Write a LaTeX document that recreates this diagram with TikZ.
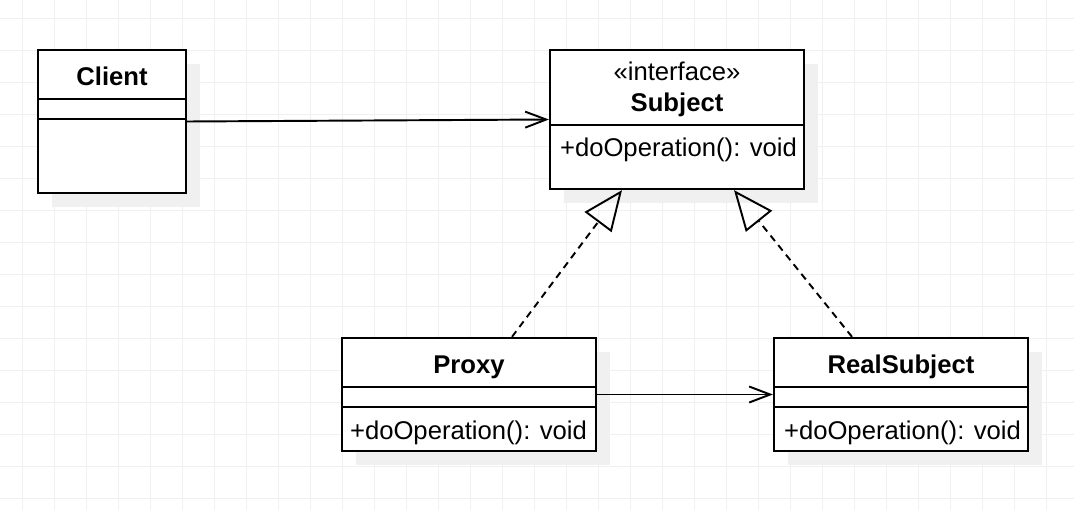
\documentclass[tikz,border=0pt]{standalone}
\usepackage{fontspec}
\setmainfont{Liberation Sans}
\usepackage{tikz}
\usetikzlibrary{arrows.meta,positioning,shadows}
\definecolor{gridGray}{RGB}{240,240,240}
\definecolor{shadowGray}{RGB}{240,240,240}

\begin{document}
\begin{tikzpicture}[x=0.02cm,y=-0.02cm,line width=1.3pt,
  font=\fontsize{14.6}{16.5}\selectfont]
\useasboundingbox (0,0) rectangle (1074,510);
% grid
\foreach \gx in {0,...,32} \draw[gridGray,line width=0.6pt] (22.3+32*\gx,0) -- (22.3+32*\gx,510);
\foreach \gy in {0,...,15} \draw[gridGray,line width=0.6pt] (0,18.3+32*\gy) -- (1074,18.3+32*\gy);

\tikzstyle{classbox}=[draw,rectangle,fill=white,inner sep=0pt,
  drop shadow={shadow xshift=0.28cm,shadow yshift=-0.28cm,fill=shadowGray,opacity=1}]
\tikzstyle{wide}=[minimum width=5.08cm]
\draw (112,121.5) node[classbox,minimum width=2.96cm,minimum height=2.86cm] (client) {};
\draw (677,119.5) node[classbox,wide,minimum height=2.78cm] (subject) {};
\draw (469,394.5) node[classbox,wide,minimum height=2.26cm] (proxy) {};
\draw (901,394.5) node[classbox,wide,minimum height=2.26cm] (real) {};

% compartments
\draw ([yshift=-1cm]client.north west) -- ([yshift=-1cm]client.north east);
\draw ([yshift=-1.4cm]client.north west) -- ([yshift=-1.4cm]client.north east);
\draw ([yshift=-1.52cm]subject.north west) -- ([yshift=-1.52cm]subject.north east);
\foreach \c in {proxy,real} {
  \draw ([yshift=-1cm]\c.north west) -- ([yshift=-1cm]\c.north east);
  \draw ([yshift=-1.4cm]\c.north west) -- ([yshift=-1.4cm]\c.north east);
}

\tikzstyle{every node}=[inner sep=0pt,anchor=base]
\tikzstyle{title}=[font=\fontsize{14.6}{16.5}\selectfont\bfseries]
\tikzstyle{member}=[anchor=base west]
\draw ([yshift=-0.73cm]client.north) node[title] (clientname) {Client};
\draw ([yshift=-0.64cm]subject.north) node (stereo) {«interface»};
\draw ([yshift=-1.25cm]subject.north) node[title] (subjectname) {Subject};
\draw ([xshift=0.2cm,yshift=-2.15cm]subject.north west) node[member] (subjectop) {+doOperation(): void};
\draw ([yshift=-0.73cm]proxy.north) node[title] (proxyname) {Proxy};
\draw ([xshift=0.16cm,yshift=-2.05cm]proxy.north west) node[member] (proxyop) {+doOperation(): void};
\draw ([yshift=-0.73cm]real.north) node[title] (realname) {RealSubject};
\draw ([xshift=0.2cm,yshift=-2.05cm]real.north west) node[member] (realop) {+doOperation(): void};

% connectors
\tikzstyle{assoc}=[line width=1.1pt,-{Straight Barb[length=0.42cm,width=0.32cm]}]
\tikzstyle{realize}=[line width=1.1pt,dash pattern=on 4pt off 3pt,
  -{Triangle[open,length=0.8cm,width=0.67cm,line width=1.1pt]}]
\draw[assoc] (client.east) -- (subject.west);
\draw[assoc] (proxy.east) -- (real.west);
\draw[realize] ([xshift=0.86cm]proxy.north) -- ([xshift=-1.1cm]subject.south);
\draw[realize] ([xshift=-0.98cm]real.north) -- ([xshift=1.14cm]subject.south);

\end{tikzpicture}
\end{document}
